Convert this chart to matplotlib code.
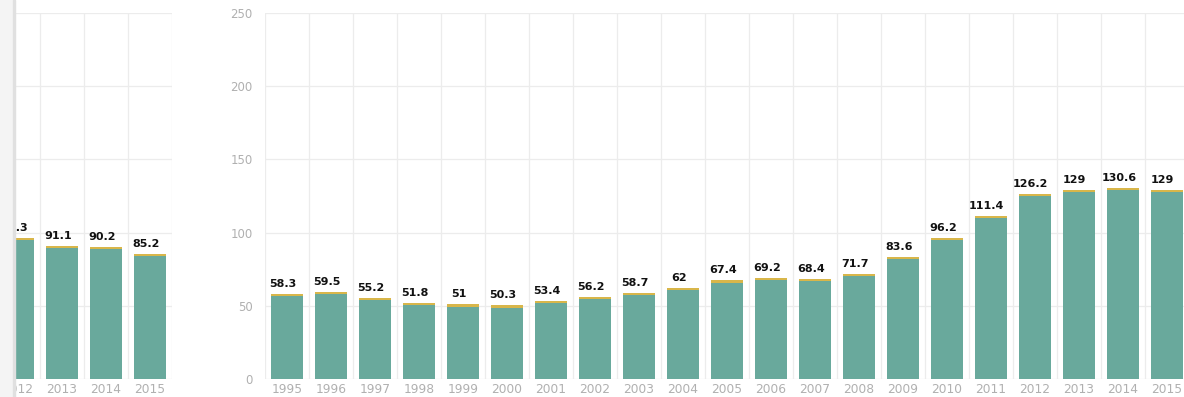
import numpy as np
import matplotlib
matplotlib.use("Agg")
import matplotlib.pyplot as plt
from matplotlib.patches import Rectangle

# left panel (cut off at the image edge)
left_years = ["2012", "2013", "2014", "2015"]
left_totals = np.array([96.3, 91.1, 90.2, 85.2])
left_caps = np.array([1.5, 1.5, 1.5, 1.5])

# right panel
years = ["1995", "1996", "1997", "1998", "1999", "2000", "2001", "2002",
         "2003", "2004", "2005", "2006", "2007", "2008", "2009", "2010",
         "2011", "2012", "2013", "2014", "2015"]
totals = np.array([58.3, 59.5, 55.2, 51.8, 51, 50.3, 53.4, 56.2, 58.7, 62,
                   67.4, 69.2, 68.4, 71.7, 83.6, 96.2, 111.4, 126.2, 129,
                   130.6, 129])
caps = np.array([1.5] * 21)

teal = "#69a99c"
gold = "#d8b64a"
grid_c = "#ececec"
tick_c = "#b0b0b0"

W, H = 1184, 397
fig = plt.figure(figsize=(W / 100, H / 100), dpi=100)

col = 44.0  # px per category


def draw(ax, labels, tot, cap, show_y):
    x = np.arange(len(labels))
    ax.bar(x, tot - cap, width=0.73, color=teal, zorder=2)
    ax.bar(x, cap, bottom=tot - cap, width=0.73, color=gold, zorder=2)
    for xi, v in zip(x, tot):
        ax.annotate(f"{v:g}", (xi, v), xytext=(-3, 3.5), textcoords="offset points",
                    ha="center", va="bottom", fontsize=8, fontweight="bold",
                    family="DejaVu Sans", color="#111111", clip_on=True,
                    annotation_clip=False, zorder=3)
    ax.set_ylim(0, 250)
    ax.set_yticks(np.arange(0, 251, 50))
    ax.set_xticks(x)
    ax.set_xticklabels(labels)
    ax.set_xticks(np.arange(-0.5, len(labels), 1), minor=True)
    ax.grid(True, which="minor", axis="x", color=grid_c, lw=0.9, zorder=0)
    ax.grid(True, which="major", axis="y", color=grid_c, lw=0.9, zorder=0)
    ax.tick_params(which="both", length=0)
    ax.tick_params(axis="x", pad=3, labelsize=8.8, labelcolor=tick_c)
    ax.tick_params(axis="y", pad=9, labelsize=8.5, labelcolor=tick_c)
    if not show_y:
        ax.set_yticklabels([])
    for s in ax.spines.values():
        s.set_visible(False)


# right axes, extends past the right edge of the image
x0, y_bot, y_top = 265, 379, 13
ax2 = fig.add_axes([x0 / W, (H - y_bot) / H, 21 * col / W, (y_bot - y_top) / H])
draw(ax2, years, totals, caps, True)
ax2.set_xlim(-0.5, 20.5)

# left axes, partially visible
lx0, lx1 = 15, 172
ax1 = fig.add_axes([lx0 / W, (H - y_bot) / H, (lx1 - lx0) / W, (y_bot - y_top) / H])
draw(ax1, left_years, left_totals, left_caps, False)
ax1.set_xlim(3.5 - (lx1 - lx0) / col, 3.5)

# card shadow on the far left
fig.patches.append(Rectangle((0, 0), 14 / W, 1, transform=fig.transFigure,
                             color="#f4f4f4", zorder=5))
fig.patches.append(Rectangle((13 / W, 0), 2 / W, 1, transform=fig.transFigure,
                             color="#e0e0e0", zorder=5))

fig.savefig("out.png", dpi=100)
